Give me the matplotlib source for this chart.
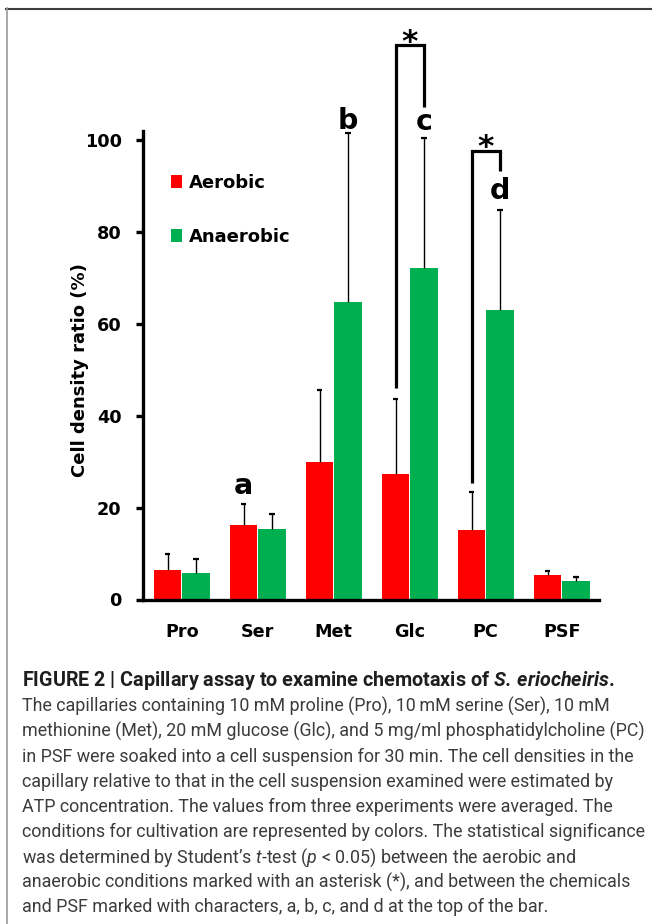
import numpy as np
import matplotlib
matplotlib.use("Agg")
import matplotlib.pyplot as plt
from matplotlib.patches import Patch
from matplotlib.lines import Line2D

# values (cell density ratio, %)
chemicals = ["Pro", "Ser", "Met", "Glc", "PC", "PSF"]
aerobic = [6.4, 16.1, 29.8, 27.3, 15.2, 5.3]
aerobic_err = [3.5, 4.7, 15.7, 16.3, 8.1, 0.9]
anaerobic = [5.8, 15.4, 64.7, 72.0, 62.9, 4.0]
anaerobic_err = [2.9, 3.3, 36.7, 28.4, 21.9, 1.0]

# letters: significance vs PSF
sig_letters = ["a", "b", "c", "d"]
sig_groups = [1, 2, 3, 4]
sig_series = ["aerobic", "anaerobic", "anaerobic", "anaerobic"]
sig_y = [22.9, 102.4, 102.2, 87.1]

# asterisk brackets: aerobic vs anaerobic
bracket_groups = [3, 4]
bracket_left_bottom = [45.9, 25.4]
bracket_top = [120.6, 97.5]
bracket_right_bottom = [107.2, 93.1]
star_y = [119.3, 96.4]

yticks = [0, 20, 40, 60, 80, 100]

caption_header = r"FIGURE 2 | Capillary assay to examine chemotaxis of $\mathbfit{S.\,eriocheiris}$."
caption_lines = [
    "The capillaries containing 10 mM proline (Pro), 10\u2009mM serine (Ser), 10 mM",
    "methionine (Met), 20 mM glucose (Glc), and 5 mg/ml phosphatidylcholine (PC)",
    "in PSF were soaked into a cell suspension for 30 min. The cell densities in the",
    "capillary relative to that in the cell suspension examined were estimated by",
    "ATP concentration. The values from three experiments were averaged. The",
    "conditions for cultivation are represented by colors. The statistical significance",
    r"was determined by Student’s $\mathit{t}$-test ($\mathit{p}$ < 0.05) between the aerobic and",
    "anaerobic conditions marked with an asterisk (*), and between the chemicals",
    "and PSF marked with characters, a, b, c, and d at the top of the bar.",
]

RED = "#ff0000"
GREEN = "#00b050"
W, H = 652, 924

plt.rcParams["mathtext.fontset"] = "custom"
plt.rcParams["mathtext.it"] = "Roboto:italic"
if "mathtext.bfit" in plt.rcParams:
    plt.rcParams["mathtext.bfit"] = "Roboto:italic:bold"
plt.rcParams["font.family"] = ["DejaVu Sans"]

fig = plt.figure(figsize=(W / 100, H / 100), dpi=100)
ax = fig.add_axes([142.5 / W, 1 - 599.5 / H, (599 - 142.5) / W, (599.5 - 130.5) / H])

x = np.arange(len(chemicals))
off, bw = 0.185, 0.36
xa, xn = x - off, x + off
ax.bar(xa, aerobic, width=bw, color=RED, linewidth=0, zorder=2)
ax.bar(xn, anaerobic, width=bw, color=GREEN, linewidth=0, zorder=2)

# one-sided error bars
cap = 0.036
for xs, v, e in [(xa, aerobic, aerobic_err), (xn, anaerobic, anaerobic_err)]:
    v = np.array(v)
    e = np.array(e)
    ax.vlines(xs, v, v + e, color="black", lw=1.0, zorder=3, clip_on=False)
    ax.hlines(v + e, xs - cap, xs + cap, color="black", lw=1.6, zorder=3, clip_on=False)

for lab, g, s, yy in zip(sig_letters, sig_groups, sig_series, sig_y):
    xx = xa[g] if s == "aerobic" else xn[g]
    ax.text(xx, yy, lab, ha="center", va="baseline", fontsize=20.5,
            fontweight="bold", clip_on=False)

for g, lb, tp, rb, sy in zip(bracket_groups, bracket_left_bottom, bracket_top,
                             bracket_right_bottom, star_y):
    ax.plot([xa[g], xa[g], xn[g], xn[g]], [lb, tp, tp, rb], color="black",
            lw=2.3, clip_on=False, solid_joinstyle="miter", solid_capstyle="butt")
    ax.text(x[g], sy, "*", ha="center", va="baseline", fontsize=22.5,
            fontweight="bold", clip_on=False)

ax.set_xlim(-0.517, 5.49)
ax.set_ylim(0, 102)
ax.set_xticks(x)
ax.set_xticklabels(chemicals, fontsize=12.7, fontweight="bold")
ax.set_yticks(yticks)
ax.set_yticklabels([str(t) for t in yticks], fontsize=12.7, fontweight="bold")
ax.tick_params(axis="x", length=0, pad=17)
ax.tick_params(axis="y", length=4.7, width=2.4, pad=10.3)
for side in ["top", "right"]:
    ax.spines[side].set_visible(False)
for side in ["left", "bottom"]:
    ax.spines[side].set_linewidth(2.4)
ax.set_ylabel("Cell density ratio (%)", fontsize=13, fontweight="bold", va="center")
ax.yaxis.set_label_coords(-0.138, 0.489)

handles = [Patch(facecolor=RED, linewidth=0, label="Aerobic"),
           Patch(facecolor=GREEN, linewidth=0, label="Anaerobic")]
ax.legend(handles=handles, loc="upper left",
          bbox_to_anchor=(170.7 / W, 1 - 173.5 / H), bbox_transform=fig.transFigure,
          frameon=False, prop=dict(weight="bold", size=13),
          handlelength=0.64, handleheight=0.7, handletextpad=0.39,
          labelspacing=2.0, borderpad=0, borderaxespad=0)

# page frame
fig.add_artist(Line2D([6 / W, 1], [1 - 8.7 / H] * 2, color="#3d3d3d", lw=1.5,
                      transform=fig.transFigure))
fig.add_artist(Line2D([7 / W] * 2, [1 - 8 / H, 0], color="#9a9a9a", lw=1.2,
                      transform=fig.transFigure))

# caption, font size fitted to line widths
cap_family = ["Roboto", "DejaVu Sans"]
renderer = fig.canvas.get_renderer()
probe = fig.text(0, 0, caption_lines[1], fontsize=12, family=cap_family)
body_fs = 12 * (642 - 22.5) / probe.get_window_extent(renderer).width
probe.remove()
probe = fig.text(0, 0, caption_header, fontsize=12, family=cap_family, fontweight="bold")
head_fs = 12 * (615 - 22.5) / probe.get_window_extent(renderer).width
probe.remove()

fig.text(22.5 / W, 1 - 686 / H, caption_header, fontsize=head_fs, family=cap_family,
         fontweight="bold", color="#1e1e1e", va="baseline")
for i, line in enumerate(caption_lines):
    fig.text(22.5 / W, 1 - (711.7 + 25.1 * i) / H, line, fontsize=body_fs,
             family=cap_family, color="#3c3c3c", va="baseline")

fig.savefig("out.png", dpi=100)
